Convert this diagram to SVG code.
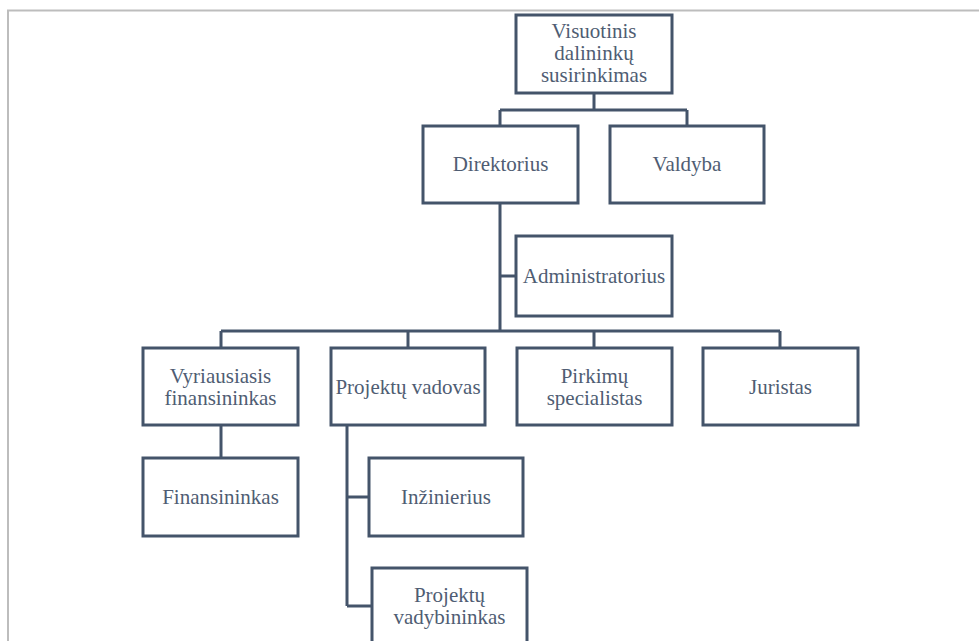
<svg xmlns="http://www.w3.org/2000/svg" width="979" height="641" viewBox="0 0 979 641">
<style>
.box{fill:#fff;stroke:#44546a;stroke-width:3}
.ln{fill:none;stroke:#44546a;stroke-width:3}
text{font-family:'Liberation Serif','Times New Roman',serif;font-size:21px;fill:#4f5d73;text-anchor:middle}
</style>
<rect width="979" height="641" fill="#fff"/>
<path d="M8 641 V10.5 H979" fill="none" stroke="#bdbdbd" stroke-width="2"/>
<g id="connectors" class="ln">
<path d="M594 93 V110 M500 110 H687 M500 110 V126 M687 110 V126"/>
<path d="M500 203 V331 M500 276 H516"/>
<path d="M221 331 H780 M221 331 V348 M408 331 V348 M594 331 V348 M780 331 V348"/>
<path d="M221 425 V458"/>
<path d="M347 425 V606 M347 497 H369 M347 606 H372"/>
</g>
<g id="visuotinis"><rect class="box" x="516" y="15" width="156" height="78"/><text x="594" y="38">Visuotinis</text><text x="594" y="60">dalininkų</text><text x="594" y="82">susirinkimas</text></g>
<g id="direktorius"><rect class="box" x="423" y="126" width="155" height="77"/><text x="500.5" y="171">Direktorius</text></g>
<g id="valdyba"><rect class="box" x="610" y="126" width="154" height="77"/><text x="687" y="171">Valdyba</text></g>
<g id="administratorius"><rect class="box" x="516" y="236" width="156" height="80"/><text x="594" y="283">Administratorius</text></g>
<g id="vyriausiasis"><rect class="box" x="143" y="348" width="155" height="77"/><text x="220.5" y="383">Vyriausiasis</text><text x="220.5" y="405">finansininkas</text></g>
<g id="projektu-vadovas"><rect class="box" x="331" y="348" width="154" height="77"/><text x="408" y="394">Projektų vadovas</text></g>
<g id="pirkimu"><rect class="box" x="517" y="348" width="155" height="77"/><text x="594.5" y="383">Pirkimų</text><text x="594.5" y="405">specialistas</text></g>
<g id="juristas"><rect class="box" x="703" y="348" width="155" height="77"/><text x="780.5" y="394">Juristas</text></g>
<g id="finansininkas"><rect class="box" x="143" y="458" width="155" height="78"/><text x="220.5" y="504">Finansininkas</text></g>
<g id="inzinierius"><rect class="box" x="369" y="458" width="154" height="78"/><text x="446" y="504">Inžinierius</text></g>
<g id="projektu-vadybininkas"><rect class="box" x="372" y="568" width="155" height="78"/><text x="449.5" y="602">Projektų</text><text x="449.5" y="624">vadybininkas</text></g>
</svg>
